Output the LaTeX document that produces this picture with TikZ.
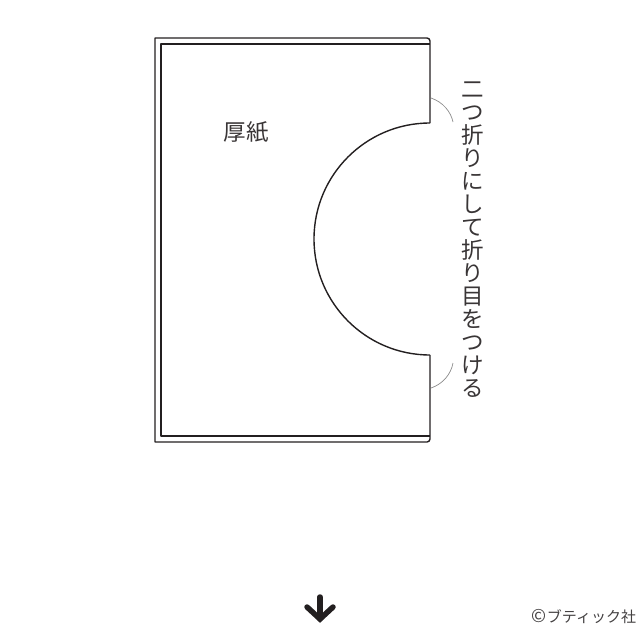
\documentclass[tikz,border=0pt]{standalone}
\usepackage{fontspec}
\newfontfamily\jp{Noto Sans CJK JP}
\definecolor{ink}{HTML}{231F20}
\definecolor{guide}{HTML}{8A8A8A}

\begin{document}
\begin{tikzpicture}[x=1pt,y=-1pt,
	card/.style={draw=ink,line width=1.4pt,line join=round},
	fold/.style={draw=guide,line width=0.7pt},
	label/.style={font=\jp\fontsize{22.5}{23}\selectfont,text=ink!90,inner sep=0pt},
	credit/.style={font=\jp\fontsize{15}{16}\selectfont,text=ink!85,inner sep=0pt}]
	\useasboundingbox (0,0) rectangle (640,640);

	% card, outer edge with the notch
	\draw[card] (430,123) -- (430,41) arc[start angle=0,end angle=-90,radius=3]
		-- (155,38) -- (155,442) -- (427,442)
		arc[start angle=90,end angle=0,radius=3] -- (430,355);
	\draw[card] (430,123) arc[start angle=270,end angle=90,radius=116];
	% inner edge
	\draw[card] (430,44) -- (161,44) -- (161,436) -- (430,436);

	\node 	(paper)		at	(246,132) 	[label]{厚紙};

	\node 	(note)		at	(473,240) 	[label,align=center]{二\\つ\\折\\り\\に\\し\\て\\折\\り\\目\\を\\つ\\け\\る};

	% guide curves to the fold
	\draw[fold] (431,98) .. controls (443,102) and (451,112) .. (453,122);
	\draw[fold] (431,388) .. controls (443,384) and (451,374) .. (453,363);

	% arrow
	\coordinate (tail) at (320,597);
	\coordinate (tip)  at (320,619);
	\draw[ink,line width=5.5pt,line cap=round] (tail) -- (tip);
	\draw[ink,line width=5.5pt,line cap=round,line join=miter] (307,607) -- (tip) -- (333,607);

	\node 	(copy)		at	(584,617) 	[credit]{{\fontsize{18}{16}\selectfont ©}ブティック社};

\end{tikzpicture}
\end{document}
